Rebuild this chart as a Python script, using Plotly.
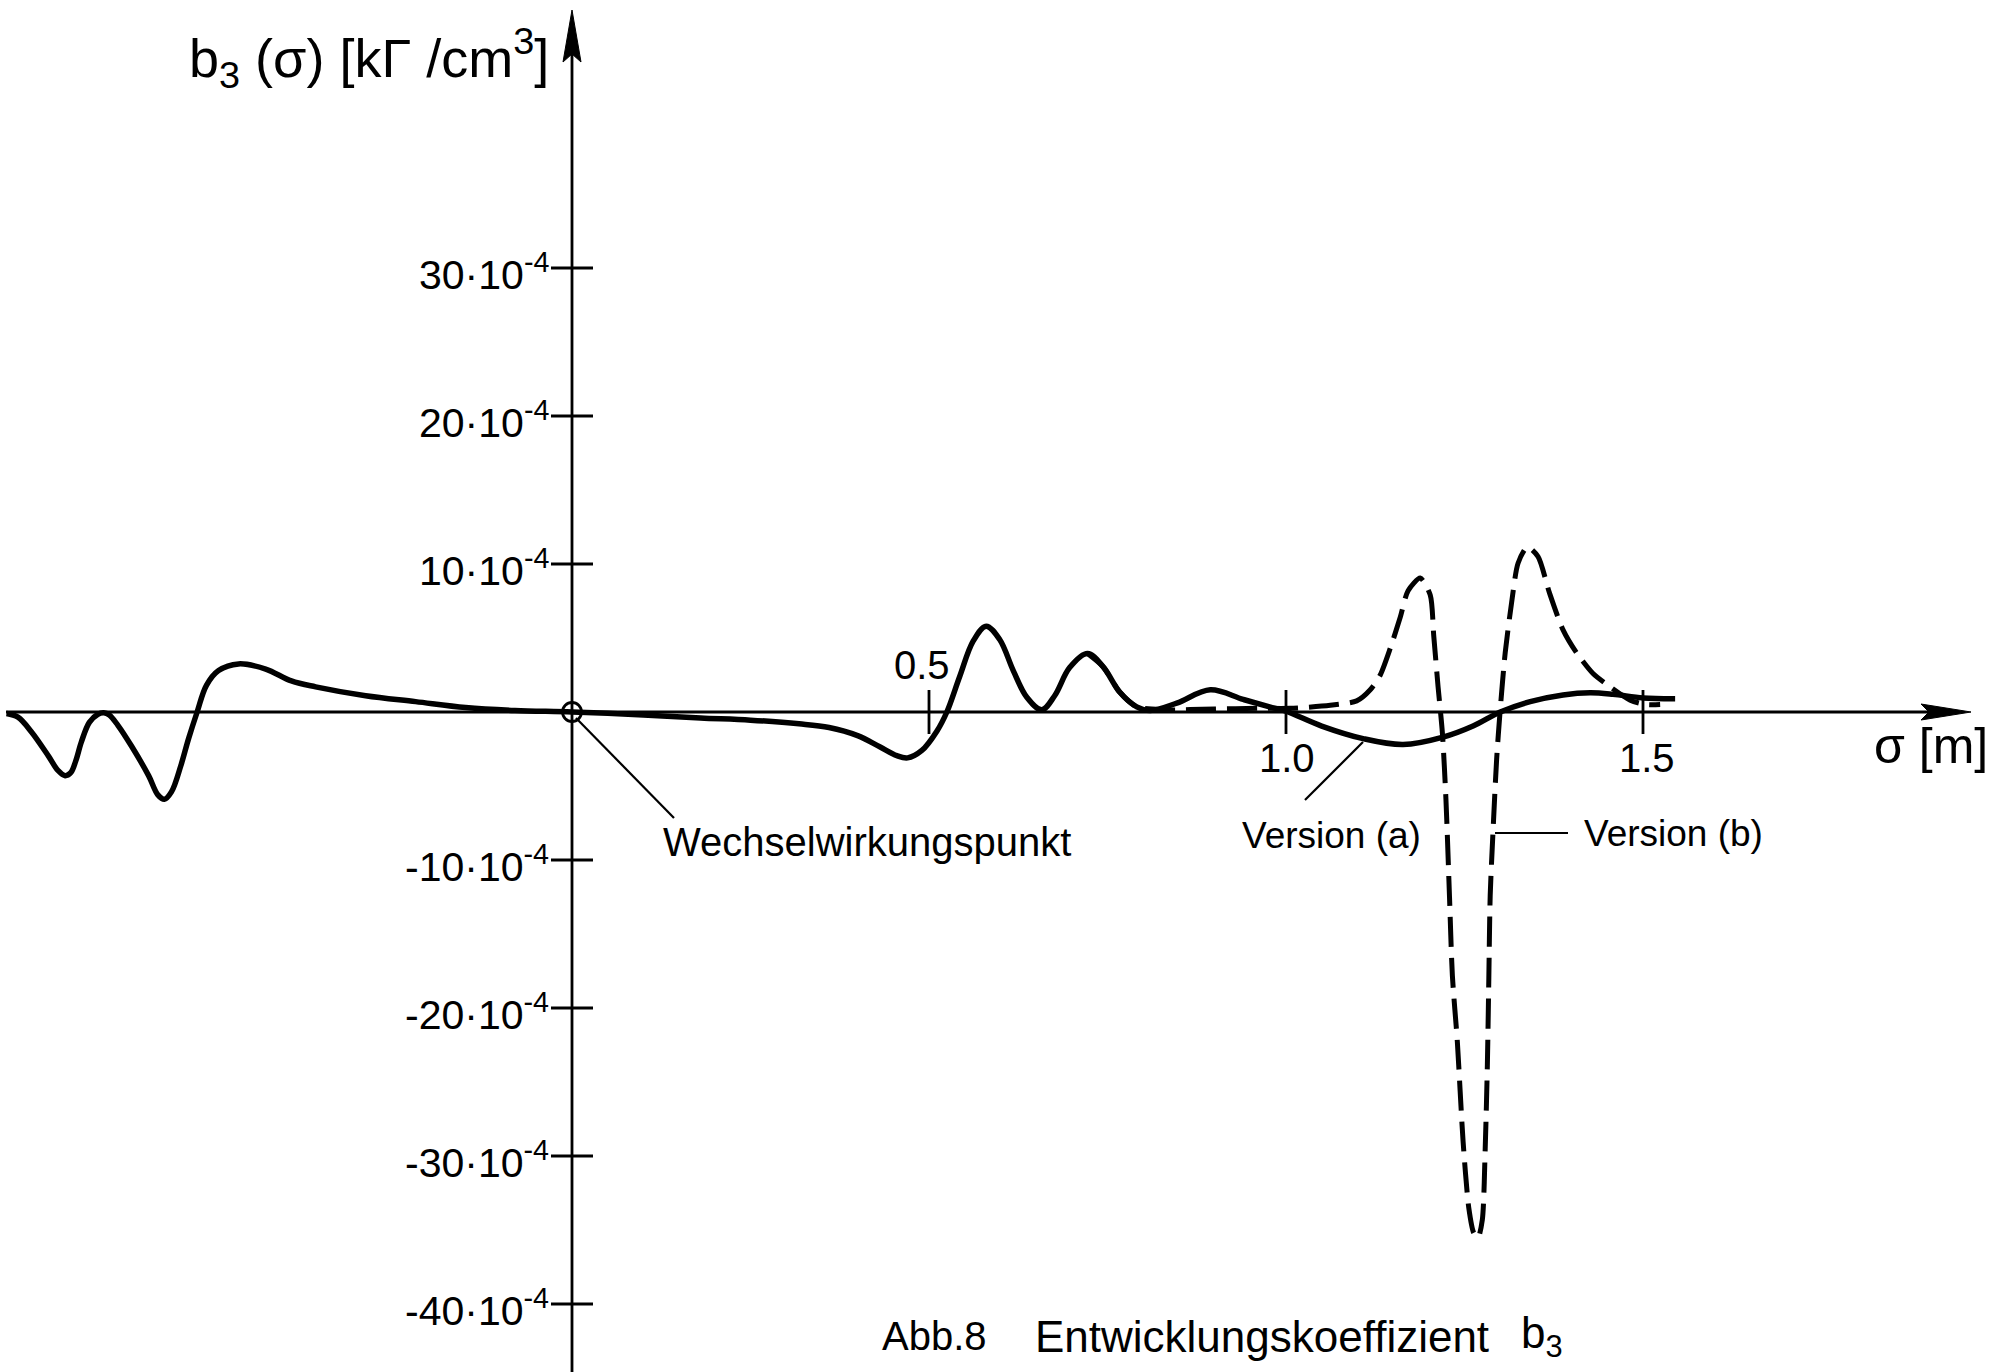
import plotly.graph_objects as go

# ---------------- data (σ in m, b3 in units of 10^-4 kΓ/cm³) ----------------
sigma_a = [-0.792, -0.776, -0.757, -0.733, -0.720, -0.710, -0.702, -0.695, -0.687, -0.676,
           -0.664, -0.656, -0.648, -0.636, -0.617, -0.593, -0.580, -0.571, -0.561, -0.548,
           -0.537, -0.525, -0.512, -0.495, -0.467, -0.429, -0.393, -0.359, -0.289, -0.219,
           -0.149, -0.080, 0.0, 0.10, 0.18, 0.25, 0.318, 0.360, 0.400, 0.431,
           0.455, 0.470, 0.490, 0.511, 0.525, 0.543, 0.562, 0.580, 0.599, 0.618,
           0.637, 0.658, 0.676, 0.697, 0.722, 0.744, 0.767, 0.791, 0.810, 0.847,
           0.894, 0.940, 0.977, 1.000, 1.050, 1.108, 1.164, 1.220, 1.262, 1.300,
           1.342, 1.388, 1.426, 1.458, 1.500, 1.545]
b3_a = [-0.1, -0.35, -1.35, -3.0, -3.95, -4.3, -4.1, -3.3, -2.0, -0.7,
        -0.15, -0.05, -0.2, -0.9, -2.3, -4.3, -5.6, -5.9, -5.4, -3.65,
        -1.8, 0.0, 1.8, 2.8, 3.25, 2.9, 2.1, 1.7, 1.1, 0.7,
        0.3, 0.1, 0.0, -0.2, -0.4, -0.55, -0.8, -1.05, -1.6, -2.35,
        -2.95, -3.1, -2.6, -1.3, 0.0, 2.4, 4.8, 5.8, 4.9, 2.8,
        1.0, 0.15, 1.1, 3.0, 3.95, 3.05, 1.35, 0.35, 0.1, 0.6,
        1.5, 0.85, 0.35, 0.05, -0.95, -1.8, -2.2, -1.7, -0.95, 0.0,
        0.7, 1.15, 1.3, 1.2, 0.95, 0.9]

sigma_b = [0.722, 0.744, 0.767, 0.791, 0.830, 0.900, 0.960, 1.006, 1.062, 1.099,
           1.118, 1.132, 1.146, 1.160, 1.171, 1.188, 1.202, 1.207, 1.213, 1.219,
           1.224, 1.229, 1.233, 1.240, 1.248, 1.256, 1.263, 1.269, 1.275, 1.279,
           1.282, 1.284, 1.286, 1.290, 1.295, 1.300, 1.307, 1.316, 1.325, 1.338,
           1.353, 1.369, 1.388, 1.407, 1.430, 1.454, 1.482, 1.505, 1.524]
b3_b = [3.95, 3.05, 1.35, 0.35, 0.15, 0.2, 0.25, 0.25, 0.45, 0.75,
        1.5, 2.5, 4.3, 6.4, 8.2, 9.05, 7.9, 5.1, 1.7, -1.4,
        -5.9, -12.5, -17.8, -22.3, -29.0, -33.5, -35.2, -35.5, -34.3, -29.5,
        -23.9, -18.2, -12.4, -8.0, -3.2, 0.15, 4.0, 7.4, 10.05, 11.15,
        10.5, 8.05, 5.55, 4.0, 2.6, 1.7, 0.8, 0.5, 0.5]

y_tick_values = [30, 20, 10, -10, -20, -30, -40]
y_tick_labels = [f"{v}·10<sup>-4</sup>" for v in y_tick_values]
x_tick_values = [0.5, 1.0, 1.5]
x_tick_labels = ["0.5", "1.0", "1.5"]

# ---------------- layout geometry ----------------
W, H = 2011, 1372
OX, OY = 572, 712          # pixel position of the origin
PX_PER_M = 714.0
PX_PER_UNIT = 14.8
x_range = [-OX / PX_PER_M, (W - OX) / PX_PER_M]
y_range = [-(H - OY) / PX_PER_UNIT, OY / PX_PER_UNIT]

def px_x(p):  # pixel column -> data x
    return (p - OX) / PX_PER_M

def px_y(p):  # pixel row -> data y
    return (OY - p) / PX_PER_UNIT

X_TIP = px_x(1971)
Y_TIP = px_y(10)

TEXT_FONT = "Liberation Sans, Arial, sans-serif"
NUM_FONT = "Liberation Sans, Arial, sans-serif"
AXIS_W = 2.8
CURVE_W = 5.5

fig = go.Figure()

fig.add_trace(go.Scatter(x=sigma_a, y=b3_a, mode="lines", name="Version (a)",
                         line=dict(color="black", width=CURVE_W, shape="spline", smoothing=1.0),
                         hoverinfo="skip"))
fig.add_trace(go.Scatter(x=sigma_b, y=b3_b, mode="lines", name="Version (b)",
                         line=dict(color="black", width=CURVE_W - 0.5, dash="30px,11px",
                                   shape="spline", smoothing=0.7),
                         hoverinfo="skip"))
fig.add_trace(go.Scatter(x=[0], y=[0], mode="markers",
                         marker=dict(symbol="circle-open", size=19, color="black",
                                     line=dict(width=2.8, color="black")),
                         hoverinfo="skip"))

shapes = []
# axes
shapes.append(dict(type="line", xref="x", yref="y", x0=px_x(6), x1=X_TIP - 40 / PX_PER_M,
                   y0=0, y1=0, line=dict(color="black", width=AXIS_W)))
shapes.append(dict(type="line", xref="x", yref="y", x0=0, x1=0,
                   y0=y_range[0], y1=Y_TIP - 40 / PX_PER_UNIT, line=dict(color="black", width=AXIS_W)))
# arrow heads
shapes.append(dict(type="path", xref="x", yref="y", xsizemode="pixel", ysizemode="pixel",
                   xanchor=X_TIP, yanchor=0, path="M0,0 L-50,8 L-42,0 L-50,-8 Z",
                   fillcolor="black", line=dict(color="black", width=1)))
shapes.append(dict(type="path", xref="x", yref="y", xsizemode="pixel", ysizemode="pixel",
                   xanchor=0, yanchor=Y_TIP, path="M0,0 L-9,-52 L0,-44 L9,-52 Z",
                   fillcolor="black", line=dict(color="black", width=1)))
# ticks
for v in y_tick_values:
    shapes.append(dict(type="line", xref="x", yref="y", xsizemode="pixel", xanchor=0,
                       x0=-21, x1=21, y0=v, y1=v, line=dict(color="black", width=AXIS_W)))
for v in x_tick_values:
    shapes.append(dict(type="line", xref="x", yref="y", ysizemode="pixel", yanchor=0,
                       x0=v, x1=v, y0=-22, y1=22, line=dict(color="black", width=AXIS_W)))
# leader lines
leaders = [((px_x(576), px_y(718)), (px_x(674), px_y(818))),     # Wechselwirkungspunkt
           ((px_x(1363), px_y(742)), (px_x(1305), px_y(800))),   # Version (a)
           ((px_x(1495), px_y(833)), (px_x(1568), px_y(833)))]   # Version (b)
for (a, b) in leaders:
    shapes.append(dict(type="line", xref="x", yref="y", x0=a[0], y0=a[1], x1=b[0], y1=b[1],
                       line=dict(color="black", width=2.2)))

def ann(text, x, y, size, xanchor="center", yanchor="middle", xshift=0, yshift=0, family=TEXT_FONT):
    return dict(text=text, x=x, y=y, xref="x", yref="y", showarrow=False,
                xanchor=xanchor, yanchor=yanchor, xshift=xshift, yshift=yshift,
                font=dict(family=family, size=size, color="black"))

annotations = []
for v, lab in zip(y_tick_values, y_tick_labels):
    annotations.append(ann(lab, 0, v, 41, xanchor="right", xshift=-21, yshift=-4, family=NUM_FONT))
x_label_shift = {0.5: (-7, 47), 1.0: (1, -46), 1.5: (4, -46)}
for v, lab in zip(x_tick_values, x_tick_labels):
    dx, dy = x_label_shift[v]
    annotations.append(ann(lab, v, 0, 40, xshift=dx, yshift=dy, family=NUM_FONT))

annotations.append(ann("b<sub>3</sub> (σ) [kΓ /cm<sup>3</sup>]", px_x(551), px_y(58), 54, xanchor="right"))
annotations.append(ann("σ [m]", px_x(1872), px_y(746), 50, xanchor="left"))
annotations.append(ann("Wechselwirkungspunkt", px_x(661), px_y(842), 40, xanchor="left"))
annotations.append(ann("Version (a)", px_x(1240), px_y(835), 37, xanchor="left"))
annotations.append(ann("Version (b)", px_x(1582), px_y(833), 37, xanchor="left"))
annotations.append(ann("Abb.8", px_x(880), px_y(1336), 40, xanchor="left"))
annotations.append(ann("Entwicklungskoeffizient", px_x(1033), px_y(1336), 44, xanchor="left"))
annotations.append(ann("b<sub>3</sub>", px_x(1519), px_y(1336), 44, xanchor="left"))

fig.update_layout(
    width=W, height=H,
    margin=dict(l=0, r=0, t=0, b=0, pad=0),
    paper_bgcolor="white", plot_bgcolor="white",
    showlegend=False,
    xaxis=dict(range=x_range, visible=False, fixedrange=True),
    yaxis=dict(range=y_range, visible=False, fixedrange=True),
    shapes=shapes,
    annotations=annotations,
)

fig.write_html("out.html", config={"displayModeBar": False},
               post_script="document.body.style.margin='0';document.body.style.overflow='hidden';")
